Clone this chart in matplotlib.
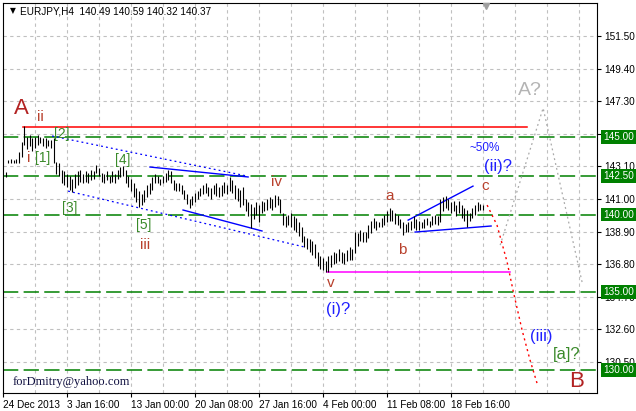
import matplotlib
matplotlib.use("Agg")
import matplotlib.pyplot as plt
import matplotlib.transforms as mtransforms

# H4 bars (high / low), bar index 1..180
bar_high = [
    142.75, 143.5, 143.55, 143.5, 143.6, 144.0, 144.7, 145.7, 145.0, 145.1,
    144.9, 145.0, 145.1, 145.0, 144.9, 144.9, 144.8, 144.8, 144.9, 143.4,
    143.3, 142.9, 142.8, 142.6, 142.5, 142.3, 142.6, 142.8, 142.9, 142.6,
    142.8, 142.7, 142.9, 142.8, 143.2, 143.0, 142.7, 142.6, 142.8, 142.5,
    142.8, 142.6, 142.9, 143.05, 143.1, 142.9, 142.5, 142.3, 142.0, 141.7,
    141.5, 141.3, 141.6, 141.9, 142.0, 142.4, 142.6, 142.5, 142.3, 142.5,
    142.7, 142.9, 142.8, 142.2, 142.0, 142.0, 141.9, 141.6, 141.3, 141.0,
    141.2, 141.4, 141.5, 141.7, 141.9, 142.0, 141.8, 141.7, 141.9, 142.0,
    141.8, 141.9, 142.1, 141.9, 142.4, 142.2, 141.9, 141.7, 141.6, 141.8,
    141.0, 140.8, 140.7, 140.5, 140.8, 140.6, 140.9, 140.8, 141.0, 141.1,
    141.0, 141.25, 141.2, 141.0, 140.1, 139.9, 140.0, 140.1, 139.9, 139.8,
    139.5, 139.2, 138.6, 138.5, 138.4, 138.3, 138.1, 137.6, 137.3, 137.2,
    137.0, 137.3, 137.4, 137.6, 137.5, 137.8, 137.6, 137.5, 137.7, 137.9,
    137.8, 138.9, 138.8, 139.0, 138.9, 138.9, 139.3, 139.6, 139.8, 139.6,
    139.5, 139.8, 140.0, 140.2, 140.4, 140.3, 140.1, 140.0, 139.7, 139.5,
    139.4, 139.5, 139.6, 139.9, 139.7, 139.6, 139.5, 139.7, 139.8, 139.6,
    139.9, 140.0, 139.9, 141.0, 141.1, 141.2, 141.0, 140.8, 140.9, 140.6,
    140.9, 140.6, 140.4, 140.3, 140.1, 140.4, 140.6, 140.8, 140.7, 140.59,
]
bar_low = [
    142.45, 143.3, 143.3, 143.3, 143.35, 143.3, 143.7, 144.5, 144.2, 144.4,
    144.1, 144.3, 144.5, 144.6, 144.4, 144.3, 144.4, 144.3, 143.3, 142.6,
    142.5, 142.0, 141.9, 141.8, 141.6, 141.45, 141.7, 141.9, 142.1, 142.0,
    142.1, 142.0, 142.2, 142.3, 142.7, 142.5, 142.1, 142.0, 142.2, 142.0,
    142.1, 142.0, 142.3, 142.4, 142.5, 142.0, 141.8, 141.5, 141.1, 140.8,
    140.5, 140.6, 140.8, 141.1, 141.3, 141.6, 142.0, 142.0, 141.9, 142.0,
    142.1, 142.2, 142.0, 141.6, 141.5, 141.5, 141.3, 141.0, 140.7, 140.4,
    140.6, 140.8, 141.0, 141.2, 141.3, 141.4, 141.2, 141.0, 141.3, 141.2,
    141.1, 141.2, 141.4, 141.3, 141.5, 141.4, 141.0, 140.9, 140.5, 140.6,
    140.2, 139.9, 139.1, 139.7, 140.0, 139.5, 140.1, 140.2, 140.3, 140.4,
    140.3, 140.5, 140.6, 140.1, 139.3, 139.2, 139.3, 139.2, 139.0, 138.9,
    138.6, 138.2, 137.9, 137.8, 137.6, 137.4, 137.2, 136.7, 136.5, 136.4,
    136.3, 136.3, 136.6, 136.8, 136.9, 137.0, 136.9, 136.8, 137.0, 137.1,
    137.1, 137.5, 138.0, 138.3, 138.2, 138.2, 138.5, 138.8, 139.1, 139.0,
    139.2, 139.2, 139.3, 139.5, 139.6, 139.6, 139.4, 139.3, 139.1, 138.7,
    138.9, 138.9, 139.0, 139.1, 139.0, 139.0, 139.1, 139.1, 139.3, 139.2,
    139.3, 139.4, 139.3, 139.5, 140.2, 140.4, 140.3, 140.1, 140.2, 139.9,
    140.1, 139.8, 139.6, 139.2, 139.6, 139.8, 140.0, 140.2, 140.3, 140.32,
]
bar_index = list(range(1, len(bar_high) + 1))

# horizontal levels
level_prices = [145.00, 142.50, 140.00, 135.00, 130.00]
level_labels = ["145.00", "142.50", "140.00", "135.00", "130.00"]
red_level = 145.64
red_span = [7.5, 196.5]
magenta_level = 136.3
magenta_span = [121.5, 190.0]

# channel / triangle lines: (x0, x1), (y0, y1)
dotted_lines = [
    ([18.4, 91.5], [145.06, 142.48]),
    ([24.4, 113.2], [141.51, 137.90]),
]
solid_lines = [
    ([55.1, 91.9], [143.06, 142.42]),
    ([67.5, 97.1], [140.29, 138.94]),
    ([151.9, 176.2], [139.64, 141.83]),
    ([154.5, 183.0], [138.87, 139.26]),
]

# forecast paths
red_path_x = [181.5, 185.2, 189.0, 191.2, 194.6, 197.6, 200.2]
red_path_y = [140.61, 139.32, 136.94, 135.13, 132.56, 130.62, 129.14]
gray_path_x = [186.4, 202.5, 217.1]
gray_path_y = [138.03, 146.86, 135.65]

y_ticks = [151.50, 149.40, 147.30, 145.20, 143.10, 141.00, 138.90, 136.80, 134.70, 132.60, 130.50]
x_ticks = [0, 24, 48, 72, 96, 120, 144, 168]
x_tick_labels = ["24 Dec 2013", "3 Jan 16:00", "13 Jan 00:00", "20 Jan 08:00",
                 "27 Jan 16:00", "4 Feb 00:00", "11 Feb 08:00", "18 Feb 16:00"]
x_grid = [12, 36, 60, 84, 108, 132, 156, 180, 192, 204, 216]

SANS = "Liberation Sans"
WAVE = "#b8402c"
BIG = "#b22222"
BLUE = "#2020ff"
GREEN_TXT = "#3a8a2a"

fig = plt.figure(figsize=(6.36, 4.11), dpi=100)
W, H = 636, 411
ax = fig.add_axes([3 / W, (H - 393) / H, (597 - 3) / W, (393 - 3) / H])
ax.set_xlim(0, 222.7)
ax.set_ylim(128.5, 153.63)

# grid
for gx in x_grid + x_ticks[1:]:
    ax.axvline(gx, color="#c0c0c0", lw=0.8, ls=(0, (3, 3)), zorder=0)
for gy in y_ticks:
    ax.axhline(gy, color="#c0c0c0", lw=0.8, ls=(0, (3, 3)), zorder=0)

# levels
for p in level_prices:
    ax.axhline(p, color="#008000", lw=1.1, ls=(0, (10, 3.5)), zorder=1)
ax.plot(red_span, [red_level, red_level], color="#ff0000", lw=1.1, zorder=2)
ax.plot(magenta_span, [magenta_level, magenta_level], color="#ff00ff", lw=1.1, zorder=2)

for xs, ys in dotted_lines:
    ax.plot(xs, ys, color="#0000ff", lw=0.9, ls=(0, (1.5, 2.5)), zorder=2)
for xs, ys in solid_lines:
    ax.plot(xs, ys, color="#0000ff", lw=1.0, zorder=2)

ax.plot(red_path_x, red_path_y, color="#ff0000", lw=1.0, ls=(0, (1.5, 2.5)), zorder=2)
ax.plot(gray_path_x, gray_path_y, color="#aaaaaa", lw=0.9, ls=(0, (1.5, 2.5)), zorder=2)

# bars
ax.vlines(bar_index, bar_low, bar_high, color="black", lw=0.8, zorder=3)

# wave labels
def lbl(x, y, s, color, size, **kw):
    ax.text(x, y, s, color=color, fontsize=size, family=SANS, ha="center", va="center", zorder=4, **kw)

lbl(7.0, 146.86, "A", BIG, 16)
lbl(14.0, 146.28, "ii", WAVE, 11)
lbl(9.8, 143.64, "i", WAVE, 11)
lbl(15.0, 143.64, "[1]", GREEN_TXT, 10)
lbl(22.1, 145.19, "[2]", GREEN_TXT, 10)
lbl(25.1, 140.42, "[3]", GREEN_TXT, 10)
lbl(45.0, 143.51, "[4]", GREEN_TXT, 10)
lbl(52.9, 139.32, "[5]", GREEN_TXT, 10)
lbl(53.2, 138.03, "iii", WAVE, 11)
lbl(102.4, 142.09, "iv", WAVE, 11)
lbl(123.0, 135.58, "v", WAVE, 11)
lbl(125.6, 133.85, "(i)?", BLUE, 12)
lbl(145.1, 141.19, "a", WAVE, 11)
lbl(149.6, 137.71, "b", WAVE, 11)
lbl(180.7, 141.83, "c", WAVE, 11)
lbl(180.7, 144.28, "~50%", BLUE, 8.5)
lbl(185.6, 143.12, "(ii)?", BLUE, 12)
lbl(197.6, 148.02, "A?", "#b4b4b4", 14)
lbl(201.7, 132.11, "(iii)", BLUE, 12)
lbl(211.5, 130.95, "[a]?", GREEN_TXT, 12)
lbl(215.2, 129.27, "B", BIG, 16)

ax.text(3.75, 129.21, "forDmitry@yahoo.com", family="Liberation Serif", fontsize=9,
        color="#101040", ha="left", va="center", zorder=4)

# header
ax.text(7 / 594, 1 - 8 / 390, "\u25bc", transform=ax.transAxes, fontsize=5.5,
        family="DejaVu Sans", ha="left", va="center", color="black")
ax.text(17 / 594, 1 - 8 / 390, "EURJPY,H4  140.49 140.59 140.32 140.37", transform=ax.transAxes,
        fontsize=7.2, family=SANS, ha="left", va="center", color="black")
ax.plot([181.0], [153.45], marker="v", color="#a0a0a0", ms=5, zorder=5, clip_on=False)

# axes styling
for sp in ax.spines.values():
    sp.set_color("black")
    sp.set_linewidth(0.8)
ax.yaxis.tick_right()
ax.set_yticks(y_ticks)
ax.set_yticklabels(["%.2f" % v for v in y_ticks])
ax.set_xticks(x_ticks)
ax.set_xticklabels(x_tick_labels, ha="left")
ax.tick_params(axis="y", direction="out", length=3, width=0.8, pad=2, labelsize=7.2)
ax.tick_params(axis="x", direction="out", length=3, width=0.8, pad=2, labelsize=7.2)
for t in ax.get_xticklabels() + ax.get_yticklabels():
    t.set_fontfamily(SANS)

# green level tags on the price scale (they overlap the scale labels, as in the source)
trans = mtransforms.blended_transform_factory(ax.transAxes, ax.transData)
for p, s in zip(level_prices, level_labels):
    ax.text(1.0105, p, s, transform=trans, fontsize=7.2, family=SANS, color="white",
            ha="left", va="center", clip_on=False, zorder=2,
            bbox=dict(boxstyle="square,pad=0.18", fc="#008000", ec="#008000", lw=0))

fig.savefig("out.png", dpi=100, facecolor="white")
